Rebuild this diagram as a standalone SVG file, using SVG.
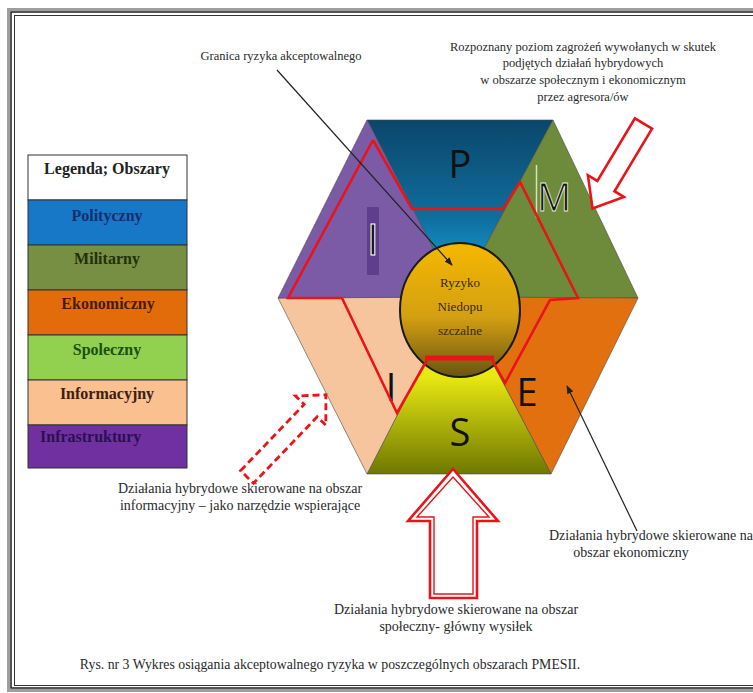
<svg xmlns="http://www.w3.org/2000/svg" width="753" height="693" viewBox="0 0 753 693">
<style>
.lbl{font-family:"Liberation Serif","Times New Roman",serif;font-size:12.5px;fill:#2a2a2a;text-anchor:middle}
.act{font-size:14px}
.leg{font-family:"Liberation Serif","Times New Roman",serif;font-size:16px;font-weight:bold;text-anchor:middle}
.big{font-family:"Open Sans","Liberation Sans",sans-serif;font-size:38px;fill:#111;text-anchor:middle}
.seg{stroke:#4a4a4a;stroke-width:0.6}
.red{fill:none;stroke:#e8141a;stroke-width:2.6;stroke-linejoin:miter}
.arr{fill:#fff;stroke:#e8141a;stroke-width:2.6;stroke-linejoin:miter}
.cell{stroke:#333;stroke-width:1}
</style>
<defs>
<linearGradient id="gP" x1="0" y1="0" x2="0" y2="1">
<stop offset="0" stop-color="#0b466a"/><stop offset="0.55" stop-color="#0f6e9e"/><stop offset="1" stop-color="#1ab0ea"/>
</linearGradient>
<linearGradient id="gS" x1="0" y1="0" x2="0" y2="1">
<stop offset="0.45" stop-color="#e8e812"/><stop offset="1" stop-color="#6e7800"/>
</linearGradient>
<linearGradient id="gC" x1="0" y1="0" x2="0" y2="1">
<stop offset="0" stop-color="#f5b800"/><stop offset="0.55" stop-color="#d4a012"/><stop offset="1" stop-color="#6a5412"/>
</linearGradient>
<marker id="ah" viewBox="0 0 10 10" refX="9" refY="5" markerWidth="7" markerHeight="7" orient="auto-start-reverse">
<path d="M0,1 L10,5 L0,9 Z" fill="#222"/>
</marker>
</defs>
<rect width="753" height="693" fill="#fff"/>
<g id="frame" fill="none">
<rect x="8.5" y="9.5" width="800" height="681" stroke="#9e9e9e" stroke-width="3"/>
<rect x="11" y="12" width="800" height="676" stroke="#1e1e1e" stroke-width="1.5"/>
<rect x="14.5" y="15.5" width="800" height="670" stroke="#333" stroke-width="1"/>
</g>
<g id="legend">
<rect class="cell" x="28" y="155" width="159" height="45" fill="#fff"/>
<rect class="cell" x="28" y="200" width="159" height="45" fill="#1778c8"/>
<rect class="cell" x="28" y="245" width="159" height="45" fill="#778f42"/>
<rect class="cell" x="28" y="290" width="159" height="45" fill="#e36c0a"/>
<rect class="cell" x="28" y="335" width="159" height="45" fill="#92d050"/>
<rect class="cell" x="28" y="380" width="159" height="45" fill="#fac090"/>
<rect class="cell" x="28" y="425" width="159" height="43" fill="#7030a0"/>
<text class="leg" x="107" y="174" fill="#222">Legenda; Obszary</text>
<text class="leg" x="107" y="221" fill="#13306e">Polityczny</text>
<text class="leg" x="107" y="264" fill="#22300c">Militarny</text>
<text class="leg" x="108" y="309" fill="#4a1a00">Ekonomiczny</text>
<text class="leg" x="107" y="355" fill="#1a5010">Spoleczny</text>
<text class="leg" x="107" y="399" fill="#3a2010">Informacyjny</text>
<text class="leg" x="40" y="442" fill="#2a1050" style="text-anchor:start">Infrastruktury</text>
</g>
<g id="hexagon">
<polygon id="P" class="seg" points="367,120 553,120 458,297" fill="url(#gP)"/>
<polygon id="M" class="seg" points="553,120 638,298 458,297" fill="#6e8b3b"/>
<polygon id="E" class="seg" points="638,298 551,474 458,297" fill="#e2700f"/>
<polygon id="S" class="seg" points="551,474 367,474 458,297" fill="url(#gS)"/>
<polygon id="Iinf" class="seg" points="367,474 278,298 458,297" fill="#f6c59e"/>
<polygon id="Iinfra" class="seg" points="278,298 367,120 458,297" fill="#7b5ba6"/>
</g>
<g id="letters">
<text class="big" x="460" y="178">P</text>
<line x1="536.5" y1="165" x2="536.5" y2="218" stroke="#d4e6b0" stroke-width="1.5"/>
<text class="big" x="554" y="211" stroke="#e8f0d8" stroke-width="0.8">M</text>
<rect x="367" y="207" width="12" height="68" fill="#5e3f8e"/>
<text class="big" x="373" y="255" fill="#3a2860" stroke="#fff" stroke-width="1" style="font-size:44px">I</text>
<text class="big" x="391" y="401">I</text>
<text class="big" x="527" y="406">E</text>
<text class="big" x="460" y="446">S</text>
</g>
<g id="core">
<ellipse cx="460" cy="310" rx="60" ry="67" fill="url(#gC)" stroke="#1a1a1a" stroke-width="2"/>
<text class="lbl" x="460" y="287" style="font-size:13px;fill:#3a2a10">Ryzyko</text>
<text class="lbl" x="460" y="311" style="font-size:13px;fill:#3a2a10">Niedopu</text>
<text class="lbl" x="460" y="335" style="font-size:13px;fill:#3a2a10">szczalne</text>
</g>
<g id="boundary">
<polyline class="red" points="373,140 288,298 342,298 397,413 427,360"/>
<polyline class="red" points="492,360 505,383 550,300 578,298 520,182 503,209 412,209 373,140"/>
<line x1="425" y1="358" x2="494" y2="358" stroke="#e8141a" stroke-width="5"/>
</g>
<g id="connectors">
<line x1="277" y1="70" x2="452" y2="265" stroke="#222" stroke-width="1.2" marker-end="url(#ah)"/>
<line x1="637" y1="531" x2="567" y2="386" stroke="#222" stroke-width="1.2" marker-end="url(#ah)"/>
<path class="arr" transform="translate(643.5,123.5) rotate(121)" d="M0,-10 L73,-10 L73,-21 L99,0 L73,21 L73,10 L0,10 Z"/>
<path class="arr" transform="translate(247,477) rotate(-46.2)" d="M0,-9 L92,-9 L92,-21 L114,0 L92,21 L92,9 L0,9 Z" style="stroke-dasharray:7 4;stroke-width:2.8"/>
<path class="arr" d="M453,469 L498,521 L477,521 L477,598 L430,598 L430,521 L408,521 Z"/>
<path fill="none" stroke="#e8141a" stroke-width="1.4" d="M453,477 L489,517 L473,517 L473,594 L434,594 L434,517 L417,517 Z"/>
</g>
<g id="labels">
<text class="lbl" x="281" y="60">Granica ryzyka akceptowalnego</text>
<text class="lbl" x="583" y="51">Rozpoznany poziom zagrożeń wywołanych w skutek</text>
<text class="lbl" x="583" y="67">podjętych działań hybrydowych</text>
<text class="lbl" x="583" y="84">w obszarze społecznym i ekonomicznym</text>
<text class="lbl" x="583" y="101">przez agresora/ów</text>
<text class="lbl act" x="240" y="493">Działania hybrydowe skierowane na obszar</text>
<text class="lbl act" x="240" y="510">informacyjny – jako narzędzie wspierające</text>
<text class="lbl act" x="456" y="614">Działania hybrydowe skierowane na obszar</text>
<text class="lbl act" x="456" y="631">społeczny- główny wysiłek</text>
<text class="lbl act" x="651" y="540">Działania hybrydowe skierowane na</text>
<text class="lbl act" x="631" y="557">obszar ekonomiczny</text>
<text class="lbl" x="330" y="669" style="font-size:13.8px">Rys. nr 3 Wykres osiągania akceptowalnego ryzyka w poszczególnych obszarach PMESII.</text>
</g>
</svg>
